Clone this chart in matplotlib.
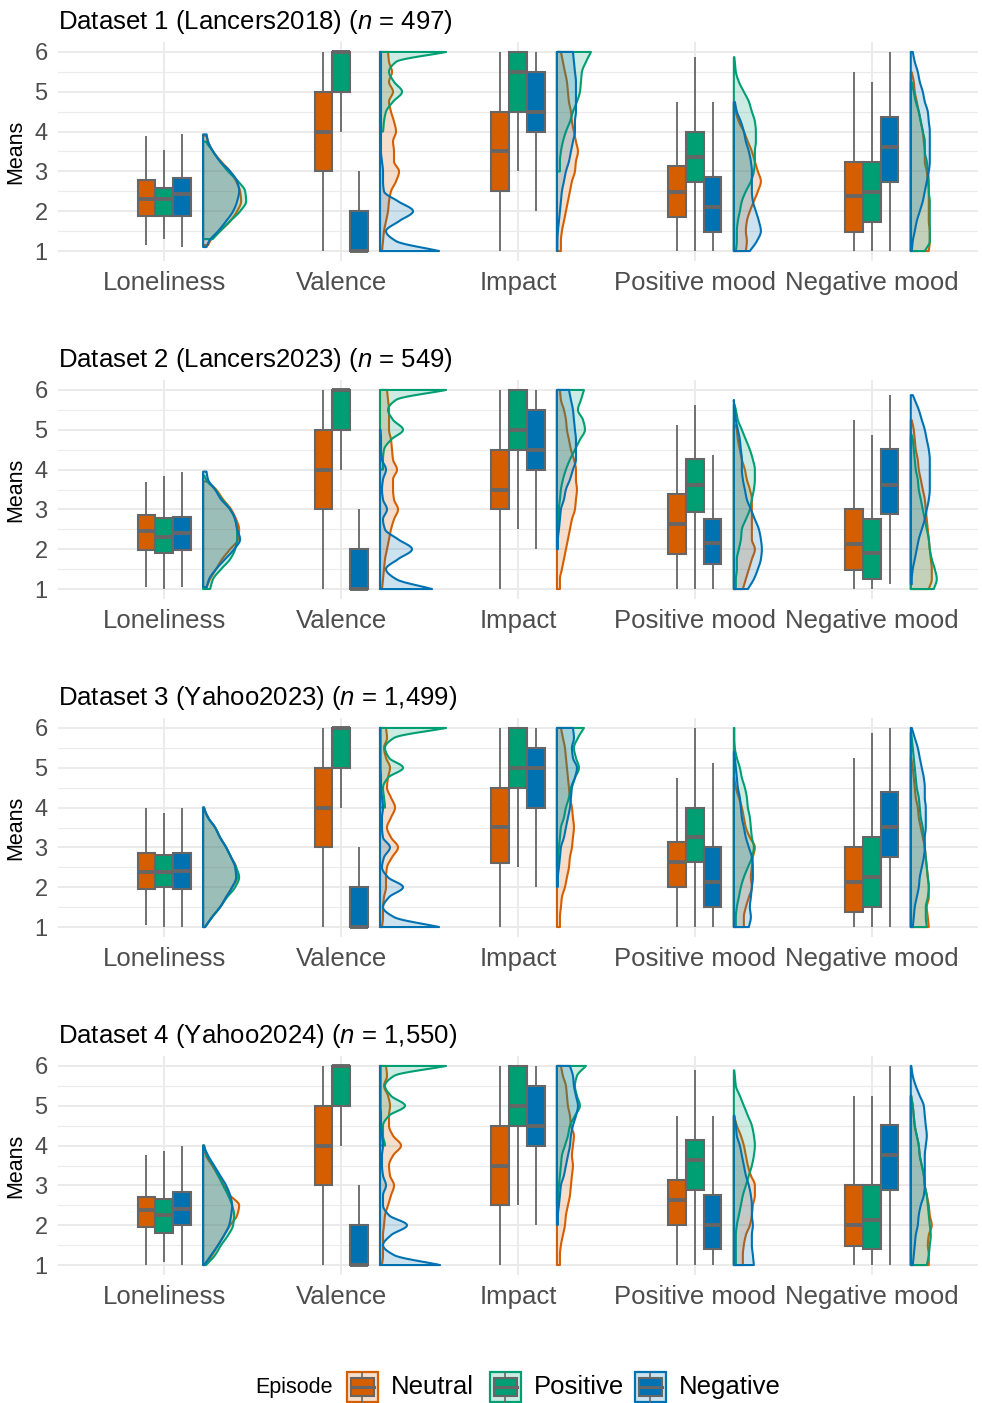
import numpy as np
import matplotlib
matplotlib.use("Agg")
import matplotlib.pyplot as plt
from matplotlib.patches import Polygon, Rectangle
from matplotlib.colors import to_rgba

plt.rcParams['font.family'] = ['Liberation Sans', 'DejaVu Sans']
plt.rcParams['mathtext.fontset'] = 'custom'
plt.rcParams['mathtext.it'] = 'Liberation Sans:italic'
plt.rcParams['mathtext.rm'] = 'Liberation Sans'

categories = ["Loneliness", "Valence", "Impact", "Positive mood", "Negative mood"]
episodes = ["Neutral", "Positive", "Negative"]
episode_colors = ["#D55E00", "#009E73", "#0072B2"]
dataset_names = ["Dataset 1 (Lancers2018)", "Dataset 2 (Lancers2023)",
                 "Dataset 3 (Yahoo2023)", "Dataset 4 (Yahoo2024)"]
dataset_n = ["497", "549", "1,499", "1,550"]

# density curves are read on this grid of means (1, 1.25, ..., 6)
dens_y = np.arange(1, 6.01, 0.25)

# box stats per category -> (Neutral, Positive, Negative): lower, q1, median, q3, upper
box_d1 = [
    [(1.15, 1.89, 2.30, 2.79, 3.89), (1.30, 1.89, 2.30, 2.59, 3.53), (1.10, 1.89, 2.44, 2.84, 3.93)],
    [(1, 3, 4, 5, 6), (4, 5, 6, 6, 6), (1, 1, 1, 2, 3)],
    [(1, 2.5, 3.5, 4.5, 6), (3, 4.5, 5.5, 6, 6), (2, 4, 4.5, 5.5, 6)],
    [(1, 1.85, 2.48, 3.13, 4.74), (1, 2.74, 3.37, 4.0, 5.87), (1, 1.49, 2.10, 2.87, 4.74)],
    [(1, 1.49, 2.37, 3.24, 5.49), (1, 1.74, 2.49, 3.24, 5.24), (1, 2.74, 3.62, 4.37, 6)],
]
box_d2 = [
    [(1.05, 1.99, 2.46, 2.87, 3.70), (1, 1.90, 2.31, 2.79, 3.85), (1.05, 1.99, 2.42, 2.81, 3.95)],
    [(1, 3, 4, 5, 6), (4, 5, 6, 6, 6), (1, 1, 1, 2, 3)],
    [(1, 3, 3.5, 4.5, 6), (2.5, 4.5, 5, 6, 6), (2, 4, 4.5, 5.5, 6)],
    [(1, 1.87, 2.63, 3.38, 5.12), (1, 2.93, 3.62, 4.27, 5.62), (1, 1.62, 2.15, 2.76, 4.37)],
    [(1, 1.49, 2.13, 3.0, 5.24), (1, 1.24, 1.90, 2.76, 4.87), (1.12, 2.88, 3.62, 4.52, 5.87)],
]
box_d3 = [
    [(1.05, 1.95, 2.37, 2.86, 4.0), (1, 2.01, 2.37, 2.81, 3.86), (1, 1.95, 2.42, 2.86, 4.0)],
    [(1, 3, 4, 5, 6), (4, 5, 6, 6, 6), (1, 1, 1, 2, 3)],
    [(1, 2.62, 3.52, 4.5, 6), (2.52, 4.5, 5, 6, 6), (2, 4, 5, 5.5, 6)],
    [(1, 2.0, 2.64, 3.14, 4.75), (1, 2.64, 3.27, 4.0, 6), (1, 1.5, 2.14, 3.0, 5.12)],
    [(1, 1.39, 2.14, 3.0, 5.25), (1, 1.5, 2.26, 3.26, 5.88), (1, 2.77, 3.52, 4.38, 6)],
]
box_d4 = [
    [(1, 1.95, 2.37, 2.71, 3.76), (1.07, 1.80, 2.26, 2.66, 3.86), (1, 2.0, 2.42, 2.83, 4.0)],
    [(1, 3, 4, 5, 6), (4, 5, 6, 6, 6), (1, 1, 1, 2, 3)],
    [(1, 2.5, 3.5, 4.5, 6), (2.5, 4.5, 5, 6, 6), (2, 4, 4.5, 5.5, 6)],
    [(1, 2.0, 2.64, 3.14, 4.75), (1, 2.89, 3.65, 4.14, 5.89), (1, 1.4, 2.0, 2.77, 4.75)],
    [(1, 1.48, 2.0, 3.02, 5.25), (1, 1.4, 2.14, 3.02, 5.25), (1, 2.89, 3.77, 4.51, 6)],
]

# data range of each density (min, max)
range_d1 = [[(1.15, 3.9), (1.3, 3.75), (1.1, 3.93)], [(1, 6), (4, 6), (1, 6)],
            [(1, 6), (3, 6), (1, 6)], [(1, 4.74), (1, 5.87), (1, 4.74)],
            [(1, 5.49), (1, 5.24), (1, 6)]]
range_d2 = [[(1.05, 3.7), (1, 3.85), (1.05, 3.95)], [(1, 6), (4, 6), (1, 5)],
            [(1, 6), (2.51, 6), (2, 6)], [(1, 5.12), (1, 5.64), (1, 5.75)],
            [(1, 5.24), (1, 4.87), (1.12, 5.87)]]
range_d3 = [[(1, 4), (1, 4), (1, 4)], [(1, 6), (4, 6), (1, 6)],
            [(1, 6), (2.52, 6), (2.01, 6)], [(1, 4.75), (1, 6), (1, 5.4)],
            [(1, 5.25), (1, 5.88), (1, 6)]]
range_d4 = [[(1, 4), (1, 4), (1, 4)], [(1, 6), (4, 6), (1, 6)],
            [(1, 6), (2.52, 6), (2.01, 6)], [(1, 4.75), (1, 5.89), (1, 4.75)],
            [(1, 5.25), (1, 5.25), (1, 6)]]

# density heights (relative) on dens_y, from 1 upwards
dens_d1 = [
    [[3, 7, 17, 27, 34, 38, 37, 33, 27, 18, 10, 5, 2],
     [0, 8, 17, 27, 37, 43, 42, 35, 25, 17, 10, 3, 0],
     [2, 6, 15, 23, 30, 34, 36, 34, 27, 17, 10, 5, 3]],
    [[2, 3, 4, 6, 8, 9, 11, 16, 19, 14, 14, 13, 16, 14, 11, 9, 13, 9, 12, 9, 8],
     [0] * 12 + [3, 4, 6, 13, 22, 14, 9, 16, 66],
     [59, 16, 6, 19, 33, 18, 4, 3, 3, 2, 1, 1, 1, 1, 1, 1, 1, 1, 1, 1, 1]],
    [[4, 4, 5, 7, 9, 11, 13, 15, 18, 19, 21, 19, 17, 15, 14, 12, 11, 10, 8, 6, 4],
     [0] * 8 + [3, 3, 4, 6, 9, 13, 16, 20, 23, 24, 25, 29, 34],
     [0.5, 0.5, 1, 2, 3, 4, 5, 7, 9, 12, 14, 16, 18, 18, 19, 19, 19, 19, 18, 17, 16]],
    [[12, 13, 12, 13, 16, 20, 24, 27, 24, 21, 18, 14, 10, 5, 2, 1],
     [2, 3, 3, 4, 6, 8, 12, 17, 20, 21, 21, 22, 22, 21, 18, 15, 10, 5, 2, 1, 0],
     [16, 23, 27, 25, 22, 19, 18, 18, 18, 17, 15, 12, 10, 7, 3, 1]],
    [[18, 19, 19, 18, 18, 18, 18, 17, 16, 14, 14, 13, 12, 10, 8, 6, 4, 3, 1],
     [14, 19, 19, 19, 19, 19, 18, 18, 17, 16, 14, 14, 12, 10, 8, 5, 3, 1],
     [1, 2, 4, 6, 9, 12, 14, 16, 18, 19, 19, 19, 19, 18, 17, 14, 12, 9, 7, 4, 2]],
]
dens_d2 = [
    [[3, 7, 13, 19, 27, 35, 36, 33, 28, 20, 13, 3, 0],
     [7, 10, 18, 27, 32, 34, 34, 32, 27, 19, 12, 3, 0],
     [3, 6, 13, 22, 31, 37, 34, 32, 27, 18, 12, 5, 3]],
    [[2, 3, 4, 5, 7, 9, 11, 14, 18, 14, 13, 13, 17, 13, 12, 11, 9, 9, 9, 8, 7],
     [0] * 12 + [3, 3, 4, 11, 23, 13, 8, 16, 66],
     [52, 16, 6, 18, 32, 18, 5, 3, 7, 3, 2, 3, 6, 2, 1, 1, 0.5]],
    [[3, 3, 5, 7, 9, 11, 13, 15, 18, 19, 20, 19, 19, 17, 14, 12, 10, 9, 7, 4, 3],
     [0] * 6 + [1, 2, 2, 3, 4, 6, 9, 13, 18, 23, 28, 26, 21, 24, 27],
     [0] * 4 + [1, 1, 2, 3, 4, 7, 9, 13, 16, 19, 19, 19, 18, 17, 16, 14, 12]],
    [[9, 12, 15, 18, 21, 18, 18, 18, 18, 18, 16, 13, 11, 8, 6, 4, 3, 0],
     [2, 2, 3, 3, 5, 7, 8, 12, 16, 18, 20, 21, 21, 19, 16, 12, 8, 4, 2, 0, 0],
     [14, 20, 24, 27, 28, 27, 25, 21, 17, 13, 11, 9, 8, 8, 7, 6, 4, 2, 1, 0, 0]],
    [[18, 21, 21, 20, 19, 18, 17, 16, 15, 14, 12, 10, 8, 7, 5, 4, 3, 1],
     [23, 26, 24, 21, 19, 18, 16, 14, 12, 10, 8, 7, 5, 4, 3, 2, 0],
     [1, 1, 2, 4, 6, 8, 11, 14, 16, 18, 19, 19, 19, 19, 18, 16, 14, 11, 8, 4, 0]],
]
dens_d3 = [
    [[2, 9, 17, 23, 29, 34, 33, 28, 23, 17, 12, 5, 1],
     [2, 9, 17, 24, 32, 36, 33, 28, 23, 17, 12, 5, 1],
     [2, 9, 17, 23, 29, 33, 32, 28, 23, 17, 12, 5, 1]],
    [[2, 3, 3, 4, 6, 6, 7, 12, 18, 11, 7, 11, 15, 11, 7, 8, 10, 6, 4, 7, 6],
     [0] * 12 + [5, 4, 3, 8, 23, 9, 5, 14, 66],
     [59, 14, 3, 9, 23, 8, 2, 4, 10, 3, 2, 2, 3, 2, 1, 1, 0.5, 0.5, 0.5, 0.5, 0.5]],
    [[3, 3, 4, 5, 8, 10, 12, 13, 15, 16, 17, 16, 15, 13, 12, 11, 10, 9, 8, 6, 4],
     [0] * 6 + [1, 1, 2, 3, 4, 7, 9, 12, 14, 18, 22, 19, 17, 21, 27],
     [0] * 4 + [1, 1, 2, 3, 4, 7, 9, 11, 13, 14, 15, 18, 20, 16, 15, 17, 16]],
    [[10, 10, 12, 15, 18, 17, 18, 19, 21, 16, 12, 10, 8, 5, 2, 0.5],
     [2, 2, 3, 5, 7, 10, 14, 18, 20, 18, 17, 16, 14, 13, 11, 8, 6, 3, 1, 0.5, 0.5],
     [15, 17, 16, 17, 18, 19, 19, 18, 15, 12, 10, 8, 7, 6, 4, 3, 2, 1, 0]],
    [[18, 17, 16, 18, 18, 17, 16, 15, 14, 12, 10, 8, 7, 5, 4, 3, 2, 0.5],
     [16, 15, 15, 17, 18, 17, 16, 15, 14, 13, 12, 10, 9, 8, 6, 5, 4, 3, 2, 1, 0],
     [2, 3, 4, 6, 8, 9, 11, 13, 14, 14, 15, 15, 15, 14, 14, 13, 11, 9, 7, 4, 1]],
]
dens_d4 = [
    [[2, 9, 15, 21, 27, 34, 36, 27, 21, 15, 9, 3, 1],
     [3, 12, 18, 25, 30, 31, 29, 25, 20, 15, 10, 4, 1],
     [1, 8, 15, 21, 26, 28, 29, 27, 23, 17, 11, 5, 1]],
    [[2, 3, 3, 3, 4, 5, 8, 11, 14, 10, 9, 13, 21, 13, 9, 9, 10, 8, 4, 7, 6],
     [0] * 12 + [5, 3, 3, 9, 25, 11, 5, 14, 66],
     [60, 14, 3, 11, 27, 9, 3, 3, 6, 3, 2, 2, 3, 2, 1, 1, 0.5, 0.5, 0.5, 0.5, 0.5]],
    [[3, 3, 4, 6, 8, 9, 11, 13, 14, 15, 16, 15, 16, 17, 14, 13, 11, 10, 9, 6, 4],
     [0] * 6 + [1, 1, 2, 3, 4, 5, 8, 11, 13, 18, 23, 20, 18, 20, 29],
     [0] * 4 + [1, 1, 2, 3, 4, 7, 9, 11, 13, 14, 16, 19, 21, 19, 17, 16, 13]],
    [[9, 9, 10, 12, 16, 18, 19, 21, 21, 17, 14, 12, 10, 7, 3, 0.5],
     [2, 2, 2, 2, 3, 5, 7, 9, 12, 15, 18, 20, 21, 20, 18, 14, 10, 6, 2, 1, 0],
     [20, 19, 18, 18, 19, 18, 18, 17, 15, 12, 10, 8, 6, 3, 2, 0.5]],
    [[18, 18, 17, 18, 21, 19, 18, 16, 14, 13, 11, 9, 8, 6, 4, 3, 2, 0.5],
     [16, 18, 19, 20, 19, 18, 17, 16, 14, 13, 11, 9, 8, 6, 4, 3, 2, 0.5],
     [2, 3, 4, 5, 7, 8, 10, 13, 14, 14, 14, 14, 15, 16, 15, 14, 13, 9, 5, 2, 0.5]],
]

datasets = [(box_d1, range_d1, dens_d1), (box_d2, range_d2, dens_d2),
            (box_d3, range_d3, dens_d3), (box_d4, range_d4, dens_d4)]

# styling
BOX_EDGE = "#666666"
GRID = "#EBEBEB"
TICK_COL = "#4D4D4D"
DODGE = 0.1
BOX_W = 0.1
VIOLIN_NUDGE = 0.22
VIOLIN_SCALE = 1 / 176.7


def smooth_curve(x, y, xs):
    # monotone cubic (Fritsch-Carlson) so the outline does not overshoot
    h = np.diff(x)
    d = np.diff(y) / h
    m = np.zeros(len(x))
    m[0], m[-1] = d[0], d[-1]
    for k in range(1, len(x) - 1):
        if d[k - 1] * d[k] > 0:
            w1 = 2 * h[k] + h[k - 1]
            w2 = h[k] + 2 * h[k - 1]
            m[k] = (w1 + w2) / (w1 / d[k - 1] + w2 / d[k])
    i = np.clip(np.searchsorted(x, xs) - 1, 0, len(x) - 2)
    t = (xs - x[i]) / h[i]
    h00 = 2 * t**3 - 3 * t**2 + 1
    h10 = t**3 - 2 * t**2 + t
    h01 = -2 * t**3 + 3 * t**2
    h11 = t**3 - t**2
    return h00 * y[i] + h10 * h[i] * m[i] + h01 * y[i + 1] + h11 * h[i] * m[i + 1]


def draw_box(ax, x, stats, color):
    lo, q1, med, q3, hi = stats
    ax.plot([x, x], [lo, q1], color=BOX_EDGE, lw=1.3, solid_capstyle='butt', zorder=3)
    ax.plot([x, x], [q3, hi], color=BOX_EDGE, lw=1.3, solid_capstyle='butt', zorder=3)
    ax.add_patch(Rectangle((x - BOX_W / 2, q1), BOX_W, q3 - q1, facecolor=color,
                           edgecolor=BOX_EDGE, lw=1.5, zorder=4))
    ax.plot([x - BOX_W / 2, x + BOX_W / 2], [med, med], color=BOX_EDGE, lw=2.8,
            solid_capstyle='butt', zorder=5)


def draw_half_violin(ax, x0, rng, vals, color):
    lo, hi = rng
    v = np.zeros(len(dens_y))
    v[:len(vals)] = vals
    ys = np.linspace(lo, hi, 300)
    ws = np.clip(smooth_curve(dens_y, v, ys), 0, None) * VIOLIN_SCALE
    xs = np.r_[x0, x0 + ws, x0]
    yy = np.r_[lo, ys, hi]
    ax.add_patch(Polygon(np.c_[xs, yy], closed=True, facecolor=to_rgba(color, 0.2),
                         edgecolor=color, lw=1.5, joinstyle='round', zorder=2))


W, H = 982, 1403
fig = plt.figure(figsize=(W / 100, H / 100), dpi=100)

for k, (boxes, ranges, dens) in enumerate(datasets):
    top = 42 + 338 * k
    ax = fig.add_axes([58 / W, 1 - (top + 219) / H, 920 / W, 219 / H])
    for ci in range(len(categories)):
        xc = ci + 1
        for ei in range(len(episodes)):
            draw_box(ax, xc + (ei - 1) * DODGE, boxes[ci][ei], episode_colors[ei])
        for ei in range(len(episodes)):
            draw_half_violin(ax, xc + VIOLIN_NUDGE, ranges[ci][ei], dens[ci][ei],
                             episode_colors[ei])

    ax.set_xlim(0.4, 5.6)
    ax.set_ylim(0.75, 6.25)
    ax.set_xticks(range(1, 6))
    ax.set_xticklabels(categories)
    ax.set_yticks(range(1, 7))
    ax.set_yticks(np.arange(1.5, 6, 1), minor=True)
    ax.grid(which='major', color=GRID, lw=1.4)
    ax.grid(which='minor', axis='y', color=GRID, lw=0.8)
    ax.set_axisbelow(True)
    for s in ax.spines.values():
        s.set_visible(False)
    ax.tick_params(which='both', length=0)
    ax.tick_params(axis='y', labelsize=17, labelcolor=TICK_COL, pad=7.5)
    ax.tick_params(axis='x', labelsize=18.5, labelcolor=TICK_COL, pad=7)
    ax.set_ylabel("Means", fontsize=15.5, labelpad=6)
    ax.set_title(dataset_names[k] + r" ($\mathit{n}$ = " + dataset_n[k] + ")",
                 loc='left', fontsize=18.5, pad=9)

# legend drawn in pixel coordinates along the bottom
leg = fig.add_axes([0, 0, 1, 62 / H])
leg.set_xlim(0, W)
leg.set_ylim(H, H - 62)
leg.axis('off')
leg.text(255, 1387, "Episode", fontsize=15.5, va='center', ha='left')
key_x = [347, 490, 635]
for ei, name in enumerate(episodes):
    c = episode_colors[ei]
    x0 = key_x[ei]
    leg.add_patch(Rectangle((x0, 1372), 31, 30, facecolor=to_rgba(c, 0.2),
                            edgecolor=c, lw=1.6))
    leg.plot([x0 + 15.5, x0 + 15.5], [1373, 1402], color=BOX_EDGE, lw=1.2)
    leg.add_patch(Rectangle((x0 + 4, 1378), 23, 18, facecolor=c,
                            edgecolor=BOX_EDGE, lw=1.5, zorder=3))
    leg.plot([x0 + 4, x0 + 27], [1387, 1387], color=BOX_EDGE, lw=2.2, zorder=4)
    leg.text(x0 + 44, 1387, name, fontsize=18.5, va='center', ha='left')

fig.savefig("out.png", dpi=100)
